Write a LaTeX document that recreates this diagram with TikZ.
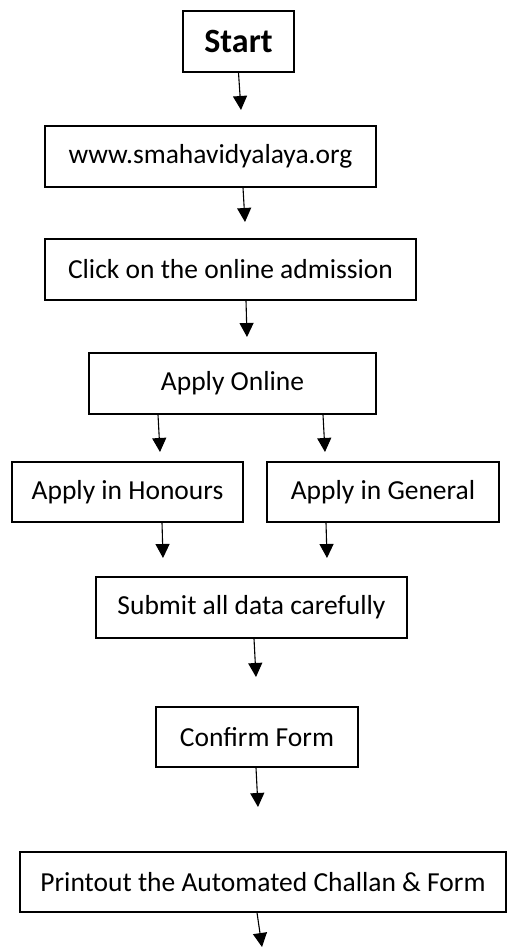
\documentclass[tikz,border=0pt]{standalone}
\usepackage{fontspec}
\setmainfont{Carlito}
\usetikzlibrary{arrows.meta}
\begin{document}
\begin{tikzpicture}[x=1pt,y=-1pt,
  box/.style={draw,line width=1.3pt,inner sep=0pt,align=center,font=\fontsize{27.5}{32}\selectfont},
  arr/.style={line width=1.1pt,-{Triangle[width=14pt,length=14pt]}}]
\useasboundingbox (0,0) rectangle (507,947);
\fill[white] (0,0) rectangle (507,947);
\node[box,minimum width=111pt,minimum height=61pt,font=\fontsize{34}{40}\selectfont\bfseries] (start) at (238.5,41.5) {Start};
\node[box,minimum width=331pt,minimum height=61pt] (www) at (210.5,156.5) {www.smahavidyalaya.org};
\node[box,minimum width=371pt,minimum height=61pt] (click) at (230.5,269.5) {Click on the online admission};
\node[box,minimum width=287pt,minimum height=61pt] (online) at (232.5,383.5) {Apply Online};
\node[box,minimum width=231pt,minimum height=60pt] (hon) at (127.5,492) {Apply in Honours};
\node[box,minimum width=232pt,minimum height=60pt] (gen) at (383,492) {Apply in General};
\node[box,minimum width=311pt,minimum height=61pt] (submit) at (251.5,607.5) {Submit all data carefully};
\node[box,minimum width=202pt,minimum height=60pt] (confirm) at (257,737) {Confirm Form};
\node[box,minimum width=486pt,minimum height=60pt] (print) at (263,882) {Printout the Automated Challan \& Form};
\coordinate (e1) at (241,110);
\coordinate (e2) at (245,222);
\coordinate (e3) at (247,337);
\coordinate (e4) at (160,452);
\coordinate (e5) at (325,452);
\coordinate (e6) at (163,558);
\coordinate (e7) at (327,558);
\coordinate (e8) at (256,677);
\coordinate (e9) at (258,807);
\coordinate (e10) at (262,947);
\draw[arr] (start.south) -- (e1);
\draw[arr] ([xshift=32.5pt]www.south) -- (e2);
\draw[arr] ([xshift=15.5pt]click.south) -- (e3);
\draw[arr] ([xshift=-74.5pt]online.south) -- (e4);
\draw[arr] ([xshift=90.5pt]online.south) -- (e5);
\draw[arr] ([xshift=34.5pt]hon.south) -- (e6);
\draw[arr] ([xshift=-57pt]gen.south) -- (e7);
\draw[arr] ([xshift=2.5pt]submit.south) -- (e8);
\draw[arr] ([xshift=-1pt]confirm.south) -- (e9);
\draw[arr] ([xshift=-6pt]print.south) -- (e10);
\end{tikzpicture}
\end{document}
